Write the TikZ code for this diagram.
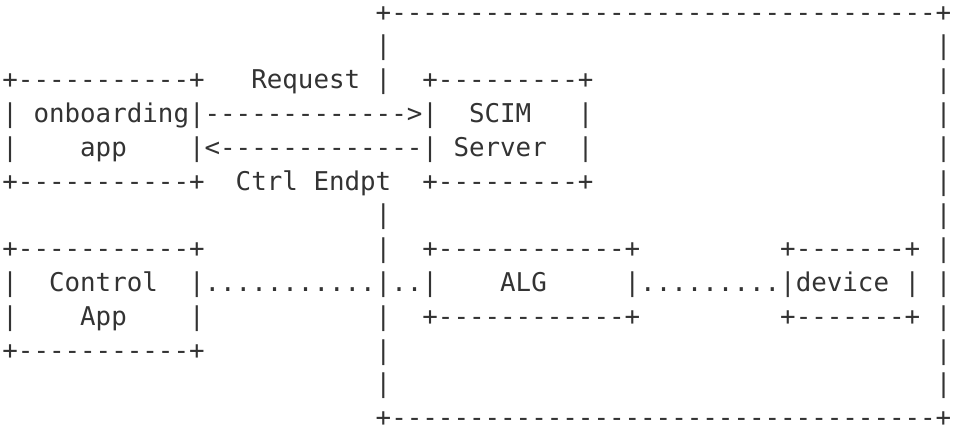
\documentclass[tikz,border=0pt]{standalone}
\usepackage{fontspec}
\setmonofont{DejaVu Sans Mono}
\usepackage{tikz}
\usepackage{color}
\definecolor{ink}{HTML}{333333}
\tikzset{%
  art/.style={font=\ttfamily\fontsize{12.92pt}{17pt}\selectfont,text=ink,
    inner sep=0pt,outer sep=0pt,anchor=base west}%
}

\begin{document}
\begin{tikzpicture}[x=7.778pt,y=-16.9pt]
\useasboundingbox (-1.2pt,10.5pt) rectangle (475.8pt,-206.5pt);

% outer frame
\node[art] (frametop) at (24,0) {+-----------------------------------+};
\node[art] (framebot) at (24,12) {+-----------------------------------+};
\foreach \r in {1,2,6,7,8,9,10,11}
  \node[art] (frameL\r) at (24,\r) {|};
\foreach \r in {1,...,11}
  \node[art] (frameR\r) at (60,\r) {|};

% onboarding app
\node[art] (onb1) at (0,2) {+-----------+};
\node[art] (onb2) at (0,3) {|~onboarding|};
\node[art] (onb3) at (0,4) {|~~~~app~~~~|};
\node[art] (onb4) at (0,5) {+-----------+};

% SCIM server
\node[art] (scim1) at (27,2) {+---------+};
\node[art] (scim2) at (27,3) {|~~SCIM~~~|};
\node[art] (scim3) at (27,4) {|~Server~~|};
\node[art] (scim4) at (27,5) {+---------+};

% request / ctrl endpoint
\node[art] (req) at (16,2) {Request};
\node[art] (reqarrow) at (13,3) {------------->};
\node[art] (ctrlarrow) at (13,4) {<-------------};
\node[art] (ctrl) at (15,5) {Ctrl~Endpt};

% control app
\node[art] (ctl1) at (0,7) {+-----------+};
\node[art] (ctl2) at (0,8) {|~~Control~~|};
\node[art] (ctl3) at (0,9) {|~~~~App~~~~|};
\node[art] (ctl4) at (0,10) {+-----------+};

% ALG
\node[art] (alg1) at (27,7) {+------------+};
\node[art] (alg2) at (27,8) {|~~~~ALG~~~~~|};
\node[art] (alg3) at (27,9) {+------------+};

% device
\node[art] (dev1) at (50,7) {+-------+};
\node[art] (dev2) at (50,8) {|device~|};
\node[art] (dev3) at (50,9) {+-------+};

% dotted paths
\node[art] (dots1) at (13,8) {...........};
\node[art] (dots2) at (25,8) {..};
\node[art] (dots3) at (41,8) {.........};
\end{tikzpicture}
\end{document}
